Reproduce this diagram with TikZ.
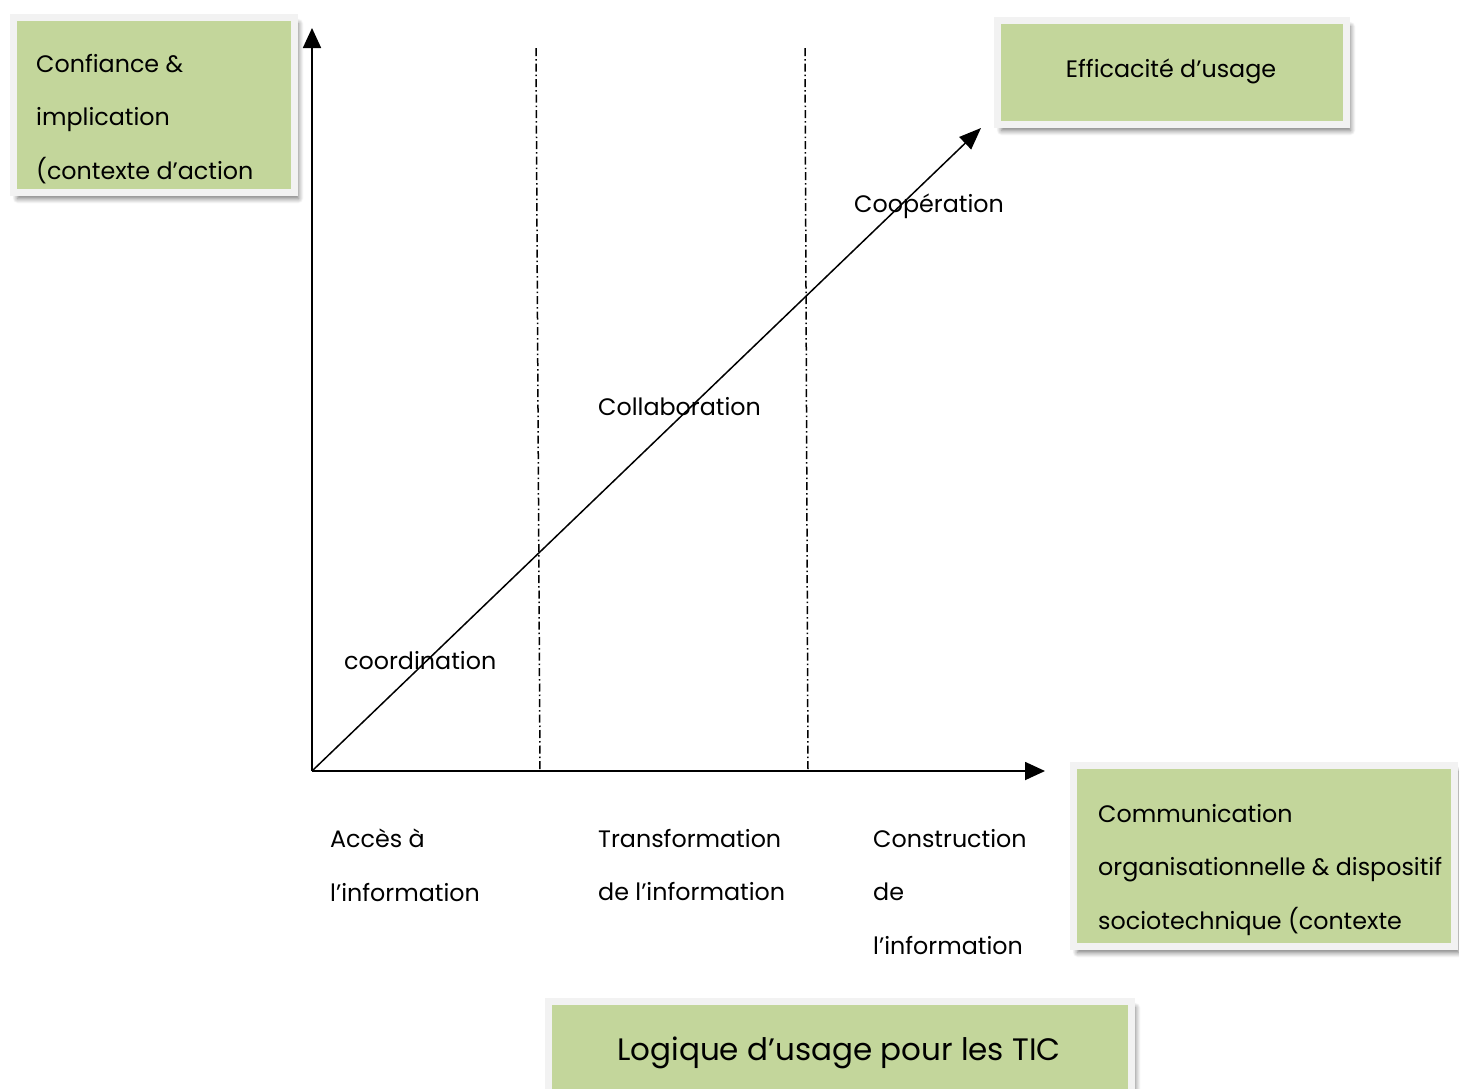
\documentclass[tikz,border=0pt]{standalone}
\usepackage{fontspec}
\setmainfont{Poppins}
\usetikzlibrary{arrows.meta,shadows.blur,positioning}

\definecolor{panelgreen}{HTML}{C3D69B}
\definecolor{panelframe}{HTML}{F2F2F2}

\begin{document}
\begin{tikzpicture}[x=1pt, y=-1pt,
    panel/.style={fill=panelgreen, draw=panelframe, line width=7pt, inner sep=0pt, outer sep=0pt, anchor=north west,
        blur shadow={shadow xshift=4pt, shadow yshift=-6pt, shadow opacity=55, shadow blur radius=5pt, shadow blur steps=8}},
    words/.style={font=\fontsize{23.8}{53.5}\selectfont, inner sep=0pt, align=left, anchor=north west},
    axis/.style={line width=1.8pt, -{Triangle[length=20pt, width=18pt]}},
    border/.style={line width=1.5pt, dash pattern=on 8pt off 3pt on 1.5pt off 3pt}]
    \useasboundingbox (0,0) rectangle (1459,1088);

    % panels
    \node[panel, minimum width=281pt, minimum height=175pt] (trust) at (13.5,17.5) {};
    \node[panel, minimum width=349pt, minimum height=104pt] (efficacy) at (997.5,20.5) {};
    \node[panel, minimum width=381pt, minimum height=181pt] (device) at (1073.5,765.5) {};
    \node[panel, minimum width=583pt, minimum height=110pt] (logic) at (548.5,1001.5) {};

    % panel texts
    \node[words] (trusttext) at (36,54) {Confiance \&\\implication\\(contexte d’action};
    \node[words, anchor=center] (efficacytext) at (1171,71) {Efficacité d’usage};
    \node[words] (devicetext) at (1098,804) {Communication\\organisationnelle \& dispositif\\sociotechnique (contexte};
    \node[words, anchor=center, font=\fontsize{31}{36}\selectfont] (logictext) at (839,1053) {Logique d’usage pour les TIC};

    % axes
    \coordinate (origin) at (312,771);
    \coordinate (ytip) at (312,28);
    \coordinate (xtip) at (1045,771);
    \coordinate (dtip) at (981,128);
    \draw[axis] (origin) -- (ytip);
    \draw[axis] (origin) -- (xtip);
    \draw[line width=1.5pt, -{Triangle[length=22pt, width=17pt]}] (origin) -- (dtip);

    % phase borders
    \coordinate (b1top) at (536,48);
    \coordinate (b1foot) at (540,771);
    \coordinate (b2top) at (805,48);
    \coordinate (b2foot) at (808,771);
    \draw[border] (b1top) -- (b1foot);
    \draw[border] (b2top) -- (b2foot);

    % phases
    \node[words] (coord) at (344,651) {coordination};
    \node[words] (collab) at (598,397) {Collaboration};
    \node[words] (coop) at (854,194) {Coopération};

    % x labels
    \node[words] (access) at (330,829) {Accès à\\l’information};
    \node[words] (transf) at (598,829) {Transformation\\de l’information};
    \node[words] (constr) at (873,829) {Construction\\de\\l’information};

\end{tikzpicture}
\end{document}
